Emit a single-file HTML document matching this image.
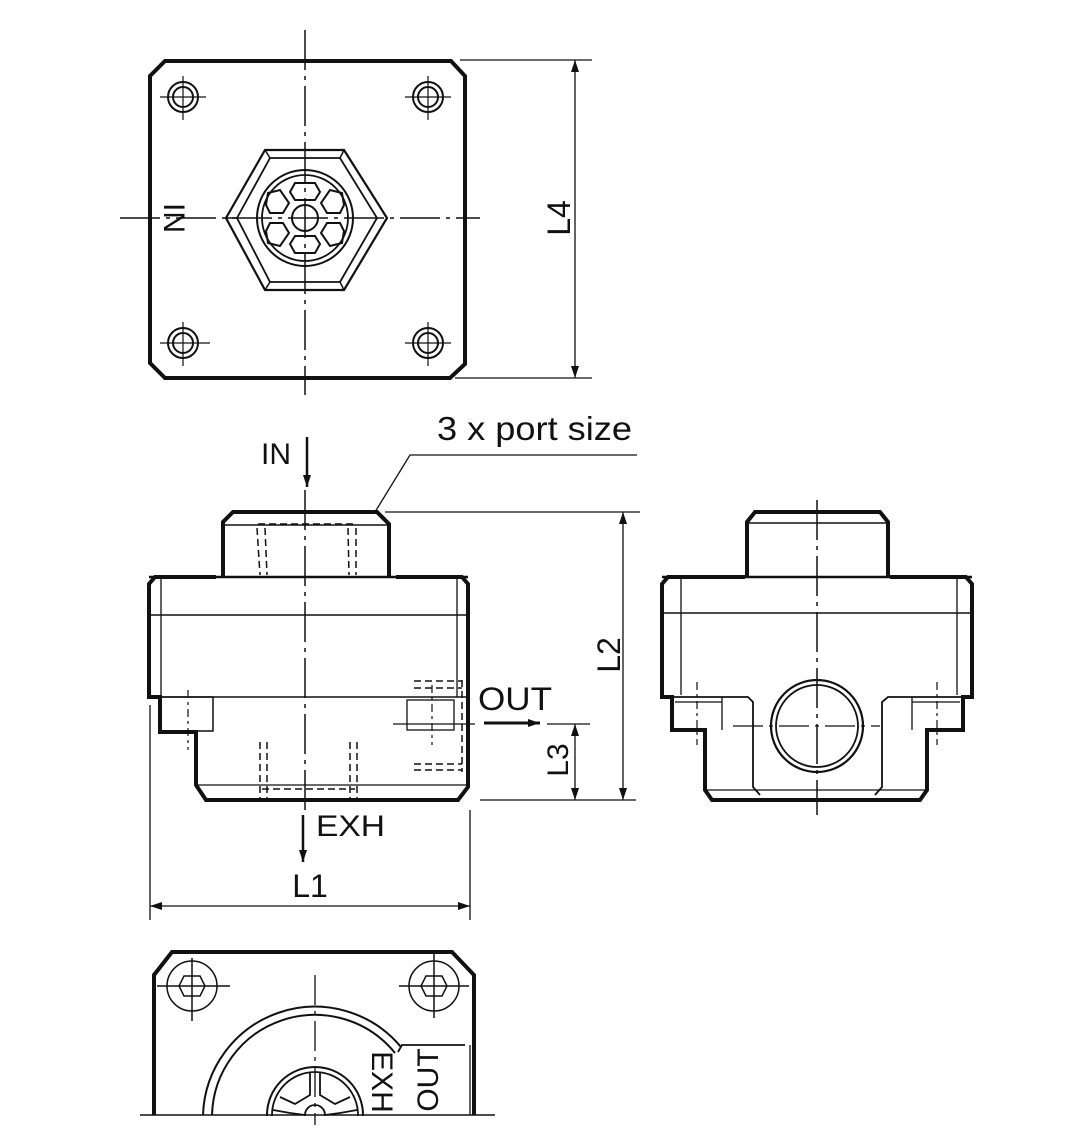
<!DOCTYPE html>
<html><head><meta charset="utf-8"><style>
html,body{margin:0;padding:0;background:#fff}
svg{display:block}
text{font-family:"Liberation Sans",Arial,sans-serif;fill:#111}
</style></head><body>
<svg width="1080" height="1148" viewBox="0 0 1080 1148" xmlns="http://www.w3.org/2000/svg">
<defs>
<marker id="ar" viewBox="0 0 12 10" refX="12" refY="5" markerWidth="14" markerHeight="10" orient="auto-start-reverse" markerUnits="userSpaceOnUse"><path d="M0,1 L12,5 L0,9 z" fill="#111"/></marker>
<clipPath id="bc"><rect x="0" y="900" width="1080" height="216"/></clipPath>
</defs>
<g fill="none" stroke="#111">
<!-- ===== TOP VIEW ===== -->
<path d="M165,61 L451,61 L465,76 L465,364 L450,378 L165,378 L150,363 L150,76 Z" stroke-width="4"/>
<line x1="305" y1="30" x2="305" y2="395" stroke-width="1.5" stroke-dasharray="40,6,4,6"/>
<line x1="120" y1="218" x2="480" y2="218" stroke-width="1.5" stroke-dasharray="40,6,4,6"/>
<g stroke-width="2">
<circle cx="183" cy="97" r="15"/><circle cx="183" cy="97" r="10"/>
<circle cx="428" cy="97" r="15"/><circle cx="428" cy="97" r="10"/>
<circle cx="183" cy="343" r="15"/><circle cx="183" cy="343" r="10"/>
<circle cx="428" cy="343" r="15"/><circle cx="428" cy="343" r="10"/>
</g>
<g stroke-width="1.2">
<line x1="160" y1="97" x2="206" y2="97"/><line x1="183" y1="76" x2="183" y2="120"/>
<line x1="405" y1="97" x2="451" y2="97"/><line x1="428" y1="76" x2="428" y2="120"/>
<line x1="160" y1="343" x2="210" y2="343"/><line x1="183" y1="322" x2="183" y2="366"/>
<line x1="405" y1="343" x2="451" y2="343"/><line x1="428" y1="322" x2="428" y2="366"/>
</g>
<path d="M226,218 L265,150 L344,150 L387,218 L344,290 L265,290 Z" stroke-width="2.2"/>
<path d="M237,218 L270,158 L340,158 L377,218 L340,282 L270,282 Z" stroke-width="1.8"/>
<line x1="226" y1="218" x2="237" y2="218" stroke-width="1.5"/>
<line x1="265" y1="150" x2="270" y2="158" stroke-width="1.5"/><line x1="344" y1="150" x2="340" y2="158" stroke-width="1.5"/>
<line x1="265" y1="290" x2="270" y2="282" stroke-width="1.5"/><line x1="344" y1="290" x2="340" y2="282" stroke-width="1.5"/>
<circle cx="305" cy="218" r="48" stroke-width="2"/>
<circle cx="305" cy="218" r="43" stroke-width="1.8"/>
<circle cx="305" cy="218" r="13" stroke-width="2"/>
<g stroke-width="2">
<path d="M295,183 L315,183 L320,192 L315,200 L295,200 L290,192 Z"/>
<path d="M295,253 L315,253 L320,244 L315,236 L295,236 L290,244 Z"/>
<path d="M268,193 L280,190 L289,203 L283,213 L270,213 L266,205 Z"/>
<path d="M342,193 L330,190 L321,203 L327,213 L340,213 L344,205 Z"/>
<path d="M268,243 L280,246 L289,233 L283,223 L270,223 L266,231 Z"/>
<path d="M342,243 L330,246 L321,233 L327,223 L340,223 L344,231 Z"/>
</g>
<!-- L4 -->
<g stroke-width="1.3">
<line x1="460" y1="60" x2="592" y2="60"/><line x1="455" y1="378" x2="592" y2="378"/>
<line x1="575" y1="60" x2="575" y2="378" marker-start="url(#ar)" marker-end="url(#ar)"/>
</g>

<!-- ===== FRONT VIEW ===== -->
<line x1="305" y1="490" x2="305" y2="812" stroke-width="1.5" stroke-dasharray="40,6,4,6"/>
<path d="M223,577 L223,522 L233,512 L377,512 L389,524 L389,577" stroke-width="4"/>
<line x1="225" y1="525" x2="387" y2="525" stroke-width="1.5"/>
<path d="M216,577 L155,577 L149,584 L149,697 L160,697 L160,732 L196,732 L196,785 L206,800 L458,800 L468,787 L468,584 L462,577 L396,577" stroke-width="4"/>
<line x1="149" y1="577" x2="468" y2="577" stroke-width="2.5"/>
<line x1="149" y1="615" x2="468" y2="615" stroke-width="1.5"/>
<line x1="149" y1="697" x2="468" y2="697" stroke-width="1.5"/>
<line x1="161" y1="579" x2="161" y2="697" stroke-width="1.3"/>
<line x1="457" y1="579" x2="457" y2="697" stroke-width="1.3"/>
<line x1="196" y1="785" x2="468" y2="785" stroke-width="1.3"/>
<rect x="160" y="697" width="53" height="34" stroke-width="1.5"/>
<line x1="188" y1="690" x2="188" y2="750" stroke-width="1.2" stroke-dasharray="8,4,3,4"/>
<g stroke-width="1.5" stroke-dasharray="7,4">
<line x1="257" y1="528" x2="260" y2="575"/><line x1="265" y1="528" x2="267" y2="575"/>
<line x1="348" y1="528" x2="349" y2="575"/><line x1="356" y1="528" x2="356" y2="575"/>
<line x1="258" y1="524" x2="355" y2="524"/>
<line x1="260" y1="742" x2="260" y2="798"/><line x1="267" y1="742" x2="267" y2="798"/>
<line x1="350" y1="742" x2="350" y2="798"/><line x1="357" y1="742" x2="357" y2="798"/>
<line x1="262" y1="789" x2="355" y2="789"/>
<line x1="414" y1="681" x2="462" y2="681"/><line x1="414" y1="688" x2="462" y2="688"/>
<line x1="414" y1="764" x2="462" y2="764"/><line x1="414" y1="770" x2="462" y2="770"/>
<line x1="462" y1="680" x2="462" y2="772"/>
</g>
<rect x="407" y="700" width="47" height="30" stroke-width="1.3"/>
<line x1="393" y1="724" x2="475" y2="724" stroke-width="1.2"/>
<line x1="432" y1="685" x2="432" y2="745" stroke-width="1.2" stroke-dasharray="8,4,3,4"/>
<line x1="307" y1="437" x2="307" y2="487" stroke-width="2.5" marker-end="url(#ar)"/>
<polyline points="375,512 410,455 637,455" stroke-width="1.3"/>
<g stroke-width="1.3">
<line x1="385" y1="512" x2="640" y2="512"/>
<line x1="480" y1="800" x2="636" y2="800"/>
<line x1="623" y1="512" x2="623" y2="800" marker-start="url(#ar)" marker-end="url(#ar)"/>
<line x1="547" y1="724" x2="590" y2="724"/>
<line x1="575" y1="724" x2="575" y2="800" marker-start="url(#ar)" marker-end="url(#ar)"/>
</g>
<line x1="484" y1="723" x2="540" y2="723" stroke-width="3" marker-end="url(#ar)"/>
<line x1="303" y1="815" x2="303" y2="862" stroke-width="2.5" marker-end="url(#ar)"/>
<g stroke-width="1.3">
<line x1="150" y1="705" x2="150" y2="920"/><line x1="470" y1="810" x2="470" y2="920"/>
<line x1="150" y1="906" x2="470" y2="906" marker-start="url(#ar)" marker-end="url(#ar)"/>
</g>

<!-- ===== RIGHT VIEW ===== -->
<line x1="817" y1="500" x2="817" y2="815" stroke-width="1.5" stroke-dasharray="40,6,4,6"/>
<path d="M747,577 L747,522 L755,512 L880,512 L888,522 L888,577" stroke-width="4"/>
<line x1="749" y1="523" x2="886" y2="523" stroke-width="1.5"/>
<path d="M745,577 L668,577 L662,584 L662,697 L672,697 L672,730 L705,730 L705,790 L712,800 L920,800 L927,790 L927,730 L963,730 L963,697 L972,697 L972,584 L966,577 L890,577" stroke-width="4"/>
<line x1="662" y1="577" x2="972" y2="577" stroke-width="2.5"/>
<line x1="662" y1="613" x2="972" y2="613" stroke-width="1.5"/>
<line x1="681" y1="579" x2="681" y2="695" stroke-width="1.3"/>
<line x1="957" y1="579" x2="957" y2="695" stroke-width="1.3"/>
<polyline points="672,697 748,697 753,702 753,787 760,795" stroke-width="1.8"/>
<polyline points="963,697 888,697 882,702 882,787 875,795" stroke-width="1.8"/>
<line x1="705" y1="790" x2="927" y2="790" stroke-width="1.3"/>
<line x1="675" y1="702" x2="722" y2="702" stroke-width="1.3"/>
<line x1="722" y1="697" x2="722" y2="730" stroke-width="1.3"/>
<line x1="912" y1="697" x2="912" y2="730" stroke-width="1.3"/>
<line x1="912" y1="702" x2="960" y2="702" stroke-width="1.3"/>
<line x1="697" y1="682" x2="697" y2="745" stroke-width="1.2" stroke-dasharray="8,4,3,4"/>
<line x1="937" y1="682" x2="937" y2="745" stroke-width="1.2" stroke-dasharray="8,4,3,4"/>
<circle cx="817" cy="726" r="46" stroke-width="2.2"/>
<circle cx="817" cy="726" r="41" stroke-width="1.8"/>
<line x1="733" y1="726" x2="880" y2="726" stroke-width="1.3" stroke-dasharray="30,6,4,6"/>

<!-- ===== BOTTOM VIEW ===== -->
<g clip-path="url(#bc)">
<path d="M154,1115 L154,975 L172,952 L452,952 L474,975 L474,1115" stroke-width="4"/>
<line x1="470" y1="1045" x2="470" y2="1115" stroke-width="1.3"/>
<g stroke-width="1.5">
<circle cx="192" cy="986" r="25"/><circle cx="434" cy="986" r="25"/>
<path d="M184,976 L200,976 L205,986 L200,996 L184,996 L179,986 Z"/>
<path d="M426,976 L442,976 L447,986 L442,996 L426,996 L421,986 Z"/>
<line x1="157" y1="986" x2="230" y2="986"/><line x1="192" y1="958" x2="192" y2="1021"/>
<line x1="399" y1="986" x2="469" y2="986"/><line x1="434" y1="950" x2="434" y2="1018"/>
</g>
<path d="M203,1115 A112,112 0 0 1 401,1047" stroke-width="2"/>
<path d="M212,1115 A103,103 0 0 1 395,1053" stroke-width="2"/>
<polyline points="398,1052 402,1045 465,1045" stroke-width="1.8"/>
<circle cx="315" cy="1115" r="48" stroke-width="2"/>
<circle cx="315" cy="1115" r="43" stroke-width="1.8"/>
<circle cx="315" cy="1115" r="10" stroke-width="1.8"/>
<g stroke-width="1.8">
<path d="M310,1073 L310,1095 L295,1104 L280,1097"/>
<path d="M320,1073 L320,1095 L335,1104 L350,1097"/>
<path d="M273,1110 L290,1113 L305,1115"/>
<path d="M357,1110 L340,1113 L325,1115"/>
</g>
</g>
<line x1="140" y1="1115" x2="495" y2="1115" stroke-width="1.5"/>
<line x1="315" y1="975" x2="315" y2="1125" stroke-width="1.3" stroke-dasharray="30,6,4,6"/>
</g>

<!-- TEXT -->
<text transform="translate(164,218) rotate(90)" font-size="30" text-anchor="middle">IN</text>
<text transform="translate(570,218) rotate(-90)" font-size="32" text-anchor="middle">L4</text>
<text x="437" y="440" font-size="33" textLength="195" lengthAdjust="spacingAndGlyphs">3 x port size</text>
<text x="261" y="464" font-size="30">IN</text>
<text transform="translate(620,655) rotate(-90)" font-size="32" text-anchor="middle">L2</text>
<text x="478" y="710" font-size="32" textLength="74" lengthAdjust="spacingAndGlyphs">OUT</text>
<text transform="translate(568,760) rotate(-90)" font-size="30" text-anchor="middle">L3</text>
<text x="316" y="836" font-size="30" textLength="69" lengthAdjust="spacingAndGlyphs">EXH</text>
<text x="310" y="897" font-size="32" text-anchor="middle">L1</text>
<text transform="translate(372,1082) rotate(90)" font-size="30" text-anchor="middle">EXH</text>
<text transform="translate(438,1080) rotate(-90)" font-size="30" text-anchor="middle">OUT</text>
</svg>
</body></html>
